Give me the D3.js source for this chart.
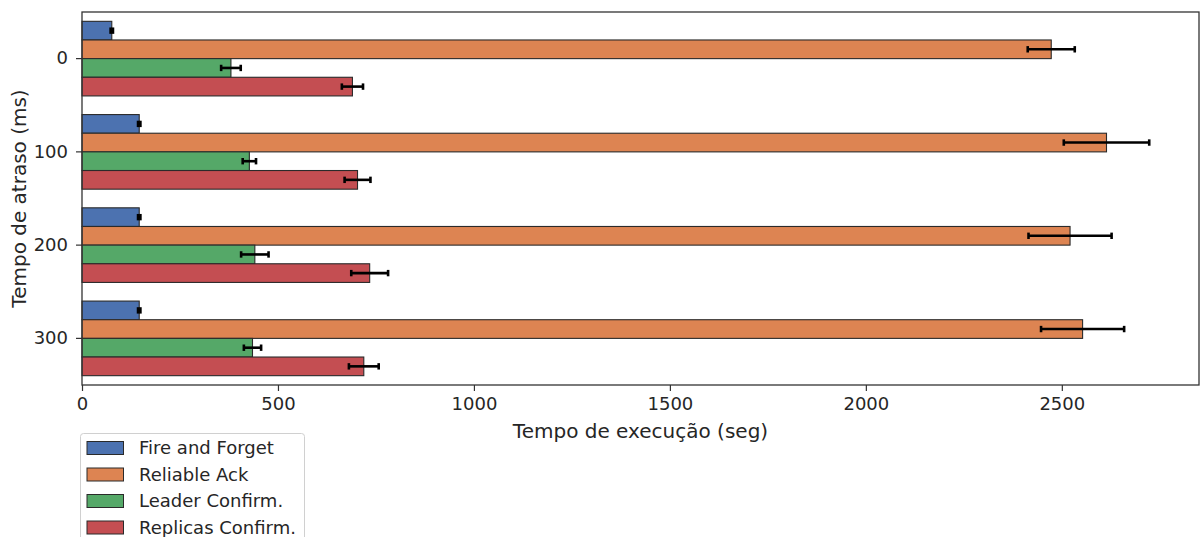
<!DOCTYPE html>
<html>
<head>
<meta charset="utf-8">
<script src="https://cdn.jsdelivr.net/npm/d3@7"></script>
<style>
  html, body { margin: 0; padding: 0; background: #fff; }
  svg { display: block; font-family: "DejaVu Sans", sans-serif; }
</style>
</head>
<body>
<svg id="chart" width="1200" height="537"></svg>
<script>
// Delay categories (ms)
const delays = ["0", "100", "200", "300"];
// Delivery modes
const modes = ["Fire and Forget", "Reliable Ack", "Leader Confirm.", "Replicas Confirm."];
const colors = ["#4c72b0", "#dd8452", "#55a868", "#c44e52"];

// Mean execution time (s) per delay, one array per mode
const fireAndForget = [76, 146, 146, 146];
const reliableAck = [2473, 2614, 2521, 2553];
const leaderConfirm = [380, 427, 441, 435];
const replicasConfirm = [690, 703, 734, 719];

// Error half-widths (s)
const fireAndForgetErr = [3, 3, 3, 3];
const reliableAckErr = [60, 109, 106, 106];
const leaderConfirmErr = [25, 17, 35, 22];
const replicasConfirmErr = [27, 33, 47, 38];

const xTicks = [0, 500, 1000, 1500, 2000, 2500];

const means = [fireAndForget, reliableAck, leaderConfirm, replicasConfirm];
const errs = [fireAndForgetErr, reliableAckErr, leaderConfirmErr, replicasConfirmErr];

const rows = [];
delays.forEach((d, i) => {
  modes.forEach((m, j) => {
    rows.push({ delay: d, mode: m, k: j, value: means[j][i], err: errs[j][i] });
  });
});

const svg = d3.select("#chart");
const margin = { left: 82, right: 1, top: 12, bottom: 152 };
const W = 1200, H = 537;
const plotW = W - margin.left - margin.right;
const plotH = H - margin.top - margin.bottom;

const x = d3.scaleLinear().domain([0, 2850]).range([0, plotW]);
const y = d3.scaleBand().domain(delays).range([0, plotH]).paddingInner(0.2).paddingOuter(0.1);
const ySub = d3.scaleBand().domain(modes).range([0, y.bandwidth()]);

const g = svg.append("g").attr("transform", `translate(${margin.left},${margin.top})`);

// Bars
g.selectAll("rect.bar").data(rows).enter().append("rect")
  .attr("class", "bar")
  .attr("x", 0)
  .attr("y", d => y(d.delay) + ySub(d.mode))
  .attr("width", d => x(d.value))
  .attr("height", ySub.bandwidth())
  .attr("fill", d => colors[d.k])
  .attr("stroke", "#2a2a2a")
  .attr("stroke-width", 1.1);

// Error bars
const eb = g.selectAll("g.err").data(rows).enter().append("g").attr("class", "err")
  .attr("transform", d => `translate(0,${y(d.delay) + ySub(d.mode) + ySub.bandwidth() / 2})`);
eb.append("line")
  .attr("x1", d => x(d.value - d.err)).attr("x2", d => x(d.value + d.err))
  .attr("y1", 0).attr("y2", 0)
  .attr("stroke", "#000").attr("stroke-width", 2.6);
eb.selectAll("line.cap").data(d => [d.value - d.err, d.value + d.err]).enter().append("line")
  .attr("class", "cap")
  .attr("x1", v => x(v)).attr("x2", v => x(v))
  .attr("y1", -3.2).attr("y2", 3.2)
  .attr("stroke", "#000").attr("stroke-width", 2.6);

// Axes
const xAxis = g.append("g").attr("transform", `translate(0,${plotH})`)
  .call(d3.axisBottom(x).tickValues(xTicks).tickFormat(d3.format("d"))
    .tickSize(6).tickPadding(6).tickSizeOuter(0));
const yAxis = g.append("g")
  .call(d3.axisLeft(y).tickSize(6).tickPadding(8).tickSizeOuter(0));

[xAxis, yAxis].forEach(a => {
  a.selectAll("text").attr("font-size", "18px").attr("fill", "#262626")
    .attr("font-family", "DejaVu Sans, sans-serif");
  a.selectAll("line").attr("stroke", "#333").attr("stroke-width", 1.2);
  a.select(".domain").remove();
});

// Frame
g.append("rect").attr("x", 0).attr("y", 0).attr("width", plotW).attr("height", plotH)
  .attr("fill", "none").attr("stroke", "#333").attr("stroke-width", 1.3);

// Axis titles
svg.append("text")
  .attr("x", margin.left + plotW / 2).attr("y", 438)
  .attr("text-anchor", "middle").attr("font-size", "20px").attr("fill", "#262626")
  .text("Tempo de execução (seg)");
svg.append("text")
  .attr("transform", `translate(26,${margin.top + plotH / 2}) rotate(-90)`)
  .attr("text-anchor", "middle").attr("font-size", "20px").attr("fill", "#262626")
  .text("Tempo de atraso (ms)");

// Legend
const lg = svg.append("g").attr("transform", "translate(80,433)");
lg.append("rect").attr("x", 0.5).attr("y", 0.5).attr("width", 224).attr("height", 120)
  .attr("rx", 3).attr("fill", "#fff").attr("fill-opacity", 0.8)
  .attr("stroke", "#d0d0d0").attr("stroke-width", 1);
const items = lg.selectAll("g.item").data(modes).enter().append("g")
  .attr("transform", (d, i) => `translate(0,${15 + i * 26.5})`);
items.append("rect").attr("x", 7).attr("y", -6.5).attr("width", 36.5).attr("height", 13)
  .attr("fill", (d, i) => colors[i]).attr("stroke", "#2a2a2a").attr("stroke-width", 1);
items.append("text").attr("x", 59).attr("y", 0).attr("dy", "0.35em")
  .attr("font-size", "18px").attr("fill", "#262626").text(d => d);
</script>
</body>
</html>
